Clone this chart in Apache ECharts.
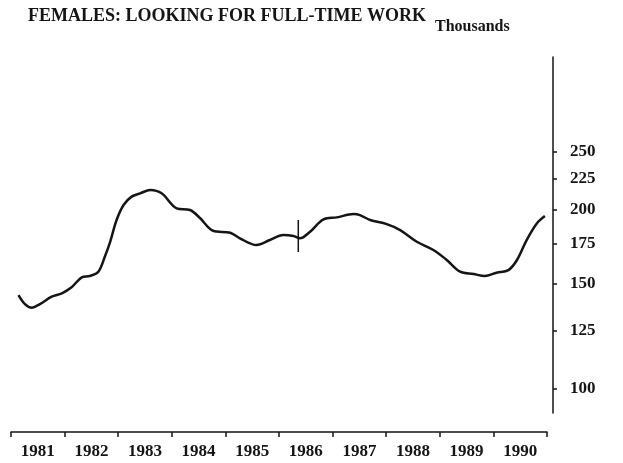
<!DOCTYPE html>
<html>
<head>
<meta charset="utf-8">
<script src="https://cdn.jsdelivr.net/npm/echarts@6/dist/echarts.min.js"></script>
<style>html,body{margin:0;padding:0;background:#fff}#c{width:623px;height:463px}</style>
</head>
<body>
<div id="c"></div>
<script>
const titleText = 'FEMALES: LOOKING FOR FULL-TIME WORK';
const unitText = 'Thousands';
const yearLabels = ['1981','1982','1983','1984','1985','1986','1987','1988','1989','1990'];
const yTicks = [100, 125, 150, 175, 200, 225, 250];
const years = [1981.14, 1981.26, 1981.39, 1981.54, 1981.76, 1981.95, 1982.13, 1982.32, 1982.47, 1982.63, 1982.75, 1982.85, 1982.97, 1983.10, 1983.25, 1983.41, 1983.60, 1983.81, 1984.09, 1984.34, 1984.53, 1984.77, 1985.09, 1985.27, 1985.58, 1985.83, 1986.08, 1986.27, 1986.39, 1986.58, 1986.83, 1987.08, 1987.39, 1987.51, 1987.70, 1988.01, 1988.26, 1988.57, 1988.88, 1989.13, 1989.38, 1989.63, 1989.84, 1990.06, 1990.28, 1990.44, 1990.62, 1990.81, 1990.96];
const values = [143.5, 138.6, 136.7, 138.6, 142.6, 144.5, 147.9, 153.7, 154.5, 157.1, 166.5, 176.4, 191.9, 203.4, 210.1, 212.8, 215.6, 212.8, 200.8, 199.5, 193.2, 184.1, 182.7, 178.8, 174.2, 177.6, 181.1, 180.4, 178.8, 183.4, 192.4, 193.9, 196.4, 195.6, 191.9, 188.9, 184.6, 176.4, 170.9, 164.4, 157.1, 155.7, 154.5, 156.5, 158.1, 164.4, 177.6, 189.4, 194.9];
const breakX = [1986.36, 1986.36];
const breakY = [191.9, 169.6];

const font = '"Liberation Serif", "Times New Roman", serif';
const ink = '#151515';
const chart = echarts.init(document.getElementById('c'), null, {renderer: 'canvas'});
chart.setOption({
  animation: false,
  backgroundColor: '#fff',
  title: [
    {text: titleText, left: 28, top: 7, padding: 0,
     textStyle: {fontFamily: font, fontWeight: 'bold', fontSize: 18, color: ink}},
    {text: unitText, left: 435, top: 19, padding: 0,
     textStyle: {fontFamily: font, fontWeight: 'bold', fontSize: 16, color: ink}}
  ],
  grid: {left: 11, right: 76, top: 57, bottom: 50, containLabel: false},
  xAxis: [
    {type: 'category', data: yearLabels, boundaryGap: true, position: 'bottom', offset: 19,
     axisLine: {lineStyle: {color: ink, width: 1.5}},
     axisTick: {show: true, length: 5, lineStyle: {color: ink, width: 1.5}},
     axisLabel: {fontFamily: font, fontWeight: 'bold', fontSize: 17, color: ink, margin: 11},
     splitLine: {show: false}},
    {type: 'value', min: 1981, max: 1991, show: false}
  ],
  yAxis: {
    type: 'log', min: 90.9, max: 360.8, position: 'right', offset: 6,
    axisLine: {show: true, lineStyle: {color: ink, width: 1.5}},
    axisTick: {show: true, length: 4, customValues: yTicks, lineStyle: {color: ink, width: 1.5}},
    axisLabel: {customValues: yTicks, fontFamily: font, fontWeight: 'bold', fontSize: 17, color: ink, margin: 17},
    splitLine: {show: false}, minorTick: {show: false}
  },
  series: [
    {type: 'line', xAxisIndex: 1, data: years.map((x, i) => [x, values[i]]),
     showSymbol: false, smooth: 0.35, lineStyle: {color: ink, width: 2.5}},
    {type: 'line', xAxisIndex: 1, data: breakX.map((x, i) => [x, breakY[i]]),
     showSymbol: false, lineStyle: {color: ink, width: 1.5}}
  ]
});
</script>
</body>
</html>
